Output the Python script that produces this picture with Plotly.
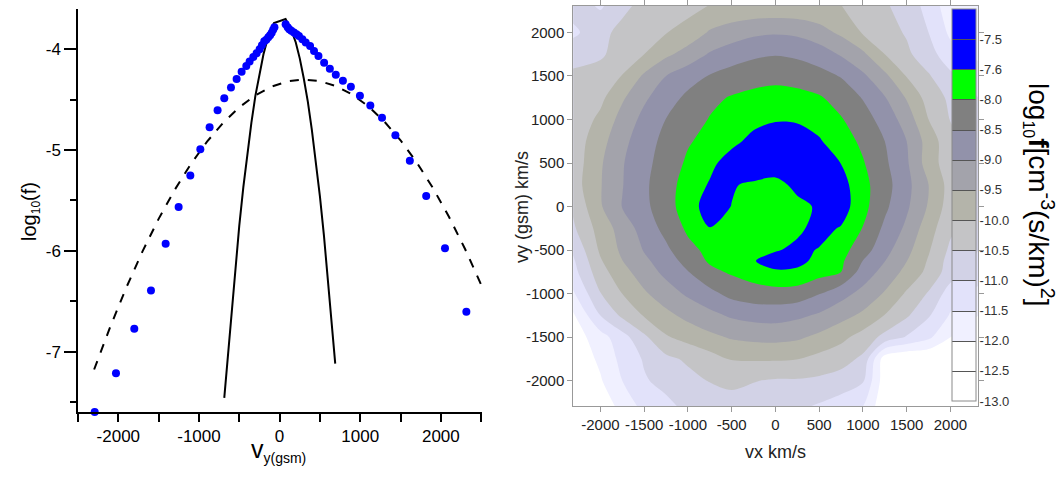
import numpy as np
import plotly.graph_objects as go

# ---------------- left panel: 1-D cut of the distribution ----------------
dot_v = [-2293, -2029, -1802, -1595, -1413, -1252, -1107, -983, -868, -769, -686,
         -603, -533, -471, -413, -372, -326, -285, -248, -219, -190, -165, -140,
         -118, -98, -80, -64,
         75, 100, 120, 145, 178, 210, 240, 282, 324, 378, 427, 482, 552, 623, 697,
         785, 884, 996, 1125, 1270, 1436, 1615, 1818, 2051, 2316]
dot_logf = [-7.60, -7.216, -6.774, -6.395, -5.930, -5.565, -5.252, -4.993, -4.774,
            -4.605, -4.485, -4.379, -4.296, -4.223, -4.166, -4.120, -4.076, -4.040,
            -4.000, -3.960, -3.920, -3.905, -3.880, -3.860, -3.835, -3.805, -3.780,
            -3.751, -3.780, -3.800, -3.815, -3.834, -3.850, -3.868, -3.900, -3.933,
            -3.967, -4.017, -4.066, -4.133, -4.192, -4.252, -4.311, -4.371, -4.460,
            -4.557, -4.679, -4.852, -5.107, -5.455, -5.975, -6.604]

narrow_v = [-686, -640, -600, -550, -500, -450, -400, -350, -300, -250, -200,
            -150, -110, -70, 74, 110, 150, 200, 250, 300, 350, 400, 450, 500,
            550, 600, 645, 690]
narrow_logf = [-7.46, -7.02, -6.63, -6.17, -5.75, -5.37, -5.03, -4.73, -4.46, -4.24,
               -4.05, -3.90, -3.81, -3.74, -3.70, -3.75, -3.82, -3.93, -4.09, -4.29,
               -4.52, -4.80, -5.11, -5.46, -5.85, -6.28, -6.69, -7.12]

broad_v = [-2300, -2100, -1900, -1700, -1500, -1300, -1100, -900, -700, -500, -300,
           -100, 100, 300, 500, 700, 900, 1100, 1300, 1500, 1700, 1900, 2100, 2300,
           2510]
broad_logf = [-7.178, -6.754, -6.363, -6.006, -5.683, -5.394, -5.138, -4.917, -4.729,
              -4.576, -4.456, -4.370, -4.318, -4.300, -4.316, -4.365, -4.449, -4.566,
              -4.718, -4.903, -5.122, -5.375, -5.662, -5.982, -6.355]

# ---------------- right panel: 2-D distribution log10 f(vx, vy) ----------------
vx_grid = [-2320, -2000, -1750, -1500, -1250, -1000, -750, -500, -250, 0,
           250, 500, 750, 1000, 1250, 1500, 1750, 2000, 2320]
# rows listed from the top (vy = +2320) to the bottom (vy = -2320)
vy_grid_top_down = [2320, 2000, 1750, 1500, 1250, 1000, 750, 500, 250, 0,
                    -250, -500, -625, -750, -1000, -1250, -1500, -1750, -2000, -2320]
logf_rows_top_down = [
    [-10.70, -11.10, -10.60, -10.40, -10.30, -10.20, -10.00, -9.96, -9.93, -9.92, -9.93, -9.96, -10.00, -10.20, -10.45, -10.70, -11.20, -11.80, -12.00],
    [-11.15, -10.60, -10.40, -10.20, -10.02, -9.80, -9.45, -9.25, -9.10, -9.05, -9.10, -9.30, -9.60, -10.05, -10.30, -10.55, -11.00, -11.60, -11.90],
    [-10.60, -10.55, -10.35, -10.00, -9.60, -9.30, -8.95, -8.75, -8.60, -8.53, -8.60, -8.75, -9.05, -9.40, -10.00, -10.40, -10.80, -11.30, -11.60],
    [-10.45, -10.36, -9.98, -9.42, -9.00, -8.71, -8.47, -8.30, -8.18, -8.12, -8.18, -8.33, -8.53, -8.91, -9.38, -10.03, -10.45, -10.90, -11.30],
    [-10.40, -10.12, -9.57, -9.08, -8.72, -8.39, -8.11, -7.97, -7.90, -7.87, -7.89, -7.96, -8.19, -8.53, -8.97, -9.54, -10.21, -10.60, -11.00],
    [-10.35, -9.89, -9.31, -8.86, -8.49, -8.21, -7.98, -7.85, -7.72, -7.65, -7.67, -7.75, -7.97, -8.28, -8.70, -9.22, -10.00, -10.52, -10.90],
    [-10.30, -9.68, -9.14, -8.71, -8.36, -8.05, -7.87, -7.71, -7.57, -7.50, -7.52, -7.59, -7.82, -8.10, -8.50, -9.00, -9.71, -10.35, -10.75],
    [-10.30, -9.56, -9.04, -8.62, -8.31, -7.93, -7.71, -7.55, -7.50, -7.55, -7.52, -7.47, -7.61, -7.97, -8.41, -8.93, -9.74, -10.30, -10.70],
    [-10.25, -9.53, -9.02, -8.60, -8.17, -7.86, -7.59, -7.59, -7.68, -7.70, -7.58, -7.47, -7.56, -7.88, -8.31, -8.85, -9.50, -10.20, -10.60],
    [-10.45, -9.55, -8.98, -8.62, -8.20, -7.80, -7.55, -7.61, -7.70, -7.72, -7.68, -7.59, -7.55, -7.88, -8.40, -8.92, -9.55, -10.25, -10.65],
    [-10.60, -9.79, -9.29, -8.78, -8.35, -7.93, -7.61, -7.64, -7.72, -7.72, -7.67, -7.57, -7.63, -8.02, -8.60, -9.10, -9.78, -10.40, -10.80],
    [-10.95, -9.92, -9.40, -8.97, -8.60, -8.14, -7.90, -7.77, -7.72, -7.63, -7.58, -7.62, -7.86, -8.27, -8.83, -9.35, -9.95, -10.60, -11.00],
    [-11.10, -10.05, -9.51, -9.09, -8.78, -8.30, -7.95, -7.79, -7.62, -7.56, -7.57, -7.72, -7.93, -8.51, -8.99, -9.49, -10.05, -10.70, -11.10],
    [-11.20, -10.20, -9.67, -9.25, -8.87, -8.52, -8.12, -7.95, -7.82, -7.65, -7.68, -7.85, -8.00, -8.71, -9.18, -9.64, -10.13, -10.75, -11.15],
    [-11.60, -10.52, -10.00, -9.57, -9.23, -8.92, -8.64, -8.35, -8.22, -8.20, -8.23, -8.48, -8.82, -9.16, -9.55, -10.07, -10.55, -11.25, -11.70],
    [-12.10, -11.00, -10.40, -9.96, -9.63, -9.36, -9.14, -8.93, -8.83, -8.80, -8.90, -9.07, -9.33, -9.60, -10.02, -10.43, -10.95, -11.55, -12.00],
    [-12.30, -11.70, -11.20, -10.60, -10.05, -9.83, -9.62, -9.45, -9.37, -9.35, -9.42, -9.62, -9.87, -10.20, -10.65, -11.05, -11.40, -12.00, -12.30],
    [-12.40, -11.90, -11.35, -10.95, -10.62, -10.42, -10.20, -9.97, -9.95, -9.95, -9.99, -10.15, -10.30, -10.60, -12.30, -12.50, -12.50, -12.50, -12.60],
    [-12.60, -12.05, -11.50, -11.05, -10.85, -10.65, -10.48, -10.40, -10.48, -10.55, -10.55, -10.60, -10.72, -10.95, -12.30, -12.60, -12.60, -12.50, -12.60],
    [-12.80, -12.50, -11.80, -11.40, -11.15, -10.90, -10.75, -10.70, -10.75, -10.85, -10.95, -11.10, -11.30, -11.55, -12.40, -12.70, -12.80, -12.80, -12.80],
]

# contour levels of log10 f (unequal steps) and their band colours, low to high
level_edges = [-13.0, -12.5, -12.0, -11.5, -11.0, -10.5, -10.0, -9.5, -9.0,
               -8.5, -8.0, -7.6, -7.5, -7.0]
level_labels = ["-13.0", "-12.5", "-12.0", "-11.5", "-11.0", "-10.5", "-10.0",
                "-9.5", "-9.0", "-8.5", "-8.0", "-7.6", "-7.5"]
band_colors = ["#ffffff", "#ffffff", "#f0f0ff", "#e2e2fa", "#d2d2e6", "#c4c4c6",
               "#b4b4aa", "#a3a3ab", "#9292aa", "#808080", "#00ff00", "#0000ff",
               "#0000ff"]

FONT = "Arial, Liberation Sans, sans-serif"
W, H = 1061, 483

# equally spaced band index so that every level gets the same colourbar height
vy_grid = vy_grid_top_down[::-1]
logf_grid = np.array(logf_rows_top_down[::-1])
band_index = np.interp(logf_grid, level_edges, np.arange(len(level_edges)))

n_bands = len(band_colors)
# colours sampled at band centres by the filled contours
fill_scale = [[k / (n_bands - 1), c] for k, c in enumerate(band_colors)]
# the same colours as hard steps over [0, n_bands] for the colour key
step_scale = []
for k, c in enumerate(band_colors):
    step_scale += [[k / n_bands, c], [(k + 1) / n_bands, c]]

fig = go.Figure()

# left panel traces
fig.add_trace(go.Scatter(x=broad_v, y=broad_logf, mode="lines",
                         line=dict(color="black", width=2, dash="dash"),
                         xaxis="x", yaxis="y", showlegend=False))
fig.add_trace(go.Scatter(x=narrow_v, y=narrow_logf, mode="lines",
                         line=dict(color="black", width=2),
                         xaxis="x", yaxis="y", showlegend=False))
fig.add_trace(go.Scatter(x=dot_v, y=dot_logf, mode="markers",
                         marker=dict(color="#0000ff", size=8),
                         cliponaxis=False, xaxis="x", yaxis="y", showlegend=False))

# right panel: filled contours
fig.add_trace(go.Contour(x=vx_grid, y=vy_grid, z=band_index,
                         autocontour=False,
                         contours=dict(start=1, end=n_bands - 1, size=1,
                                       coloring="fill", showlines=False),
                         colorscale=fill_scale, line=dict(smoothing=0.9, width=0),
                         showscale=False, xaxis="x2", yaxis="y2", hoverinfo="skip"))
# colour key with separators between levels (trace itself lies outside the axes)
fig.add_trace(go.Contour(x=[9000, 9100], y=[9000, 9100], z=[[0, n_bands], [n_bands, 0]],
                         autocontour=False, zmin=0, zmax=n_bands,
                         contours=dict(start=1, end=n_bands - 1, size=1,
                                       coloring="heatmap", showlines=True),
                         colorscale=step_scale, line=dict(color="#555555", width=1),
                         xaxis="x2", yaxis="y2", hoverinfo="skip",
                         colorbar=dict(
                             x=951.5 / W, xanchor="left", xpad=0,
                             y=1 - 9 / H, yanchor="top", ypad=0,
                             len=392, lenmode="pixels", thickness=24,
                             outlinecolor="#8a8a8a", outlinewidth=1,
                             tickmode="array", tickvals=list(range(n_bands)),
                             ticktext=level_labels, ticks="",
                             tickfont=dict(family=FONT, size=13, color="#333333"))))

left_ax = dict(showline=True, linecolor="black", linewidth=1.5, ticks="outside",
               tickcolor="black", tickwidth=1.5, showgrid=False, zeroline=False,
               tickfont=dict(family=FONT, size=17, color="black"))
right_ax = dict(showline=True, linecolor="#999999", linewidth=1, ticks="outside",
                tickcolor="#999999", ticklen=5, tickwidth=1, showgrid=False,
                zeroline=False, mirror="ticks",
                tickfont=dict(family=FONT, size=15, color="#222222"))

xt = [-2000, -1000, 0, 1000, 2000]
yt = [-7, -6, -5, -4]
rt = [-2000, -1500, -1000, -500, 0, 500, 1000, 1500, 2000]

fig.update_layout(
    width=W, height=H, margin=dict(l=0, r=0, t=0, b=0, autoexpand=False),
    paper_bgcolor="white", plot_bgcolor="white", showlegend=False,
    xaxis=dict(left_ax, domain=[78 / W, 482 / W], range=[-2500, 2510],
               tickvals=xt, ticktext=[str(v) for v in xt], ticklen=8,
               minor=dict(tickvals=[-2500, -1500, -500, 500, 1500, 2500], ticklen=8,
                          tickcolor="black", tickwidth=1.5, ticks="outside"),
               anchor="y"),
    yaxis=dict(left_ax, domain=[1 - 412 / H, 1 - 9 / H], range=[-7.6, -3.6],
               tickvals=yt, ticktext=[str(v) for v in yt], ticklen=12,
               minor=dict(tickvals=[-7.5, -6.5, -5.5, -4.5], ticklen=6,
                          tickcolor="black", tickwidth=1.5, ticks="outside"),
               anchor="x"),
    xaxis2=dict(right_ax, domain=[573.3 / W, 978 / W], range=[-2310, 2315],
                tickvals=rt, ticktext=[str(v) for v in rt], anchor="y2"),
    yaxis2=dict(right_ax, domain=[1 - 406 / H, 1 - 6 / H], range=[-2290, 2303],
                tickvals=rt, ticktext=[str(v) for v in rt], anchor="x2"),
)

annotations = [
    dict(text='log<sub><span style="font-size:12px">10</span></sub>(f)', x=30 / W,
         y=1 - 212 / H, textangle=-90, font=dict(family=FONT, size=20, color="black")),
    dict(text='v<sub><span style="font-size:14px">y(gsm)</span></sub>', x=278 / W,
         y=1 - 450 / H, font=dict(family=FONT, size=25, color="black")),
    dict(text="vy (gsm) km/s", x=522 / W, y=1 - 207 / H, textangle=-90,
         font=dict(family=FONT, size=18, color="#222222")),
    dict(text="vx km/s", x=775 / W, y=1 - 452 / H,
         font=dict(family=FONT, size=18, color="#222222")),
    dict(text='log<sub><span style="font-size:16px">10</span></sub><b>f</b>[cm<sup>-3</sup>(s/km)<sup>2</sup>]',
         x=1040 / W, y=1 - 195 / H, textangle=90,
         font=dict(family=FONT, size=28, color="black")),
]
for a in annotations:
    a.update(xref="paper", yref="paper", showarrow=False, xanchor="center", yanchor="middle")
fig.update_layout(annotations=annotations)

fig.write_html("out.html")
